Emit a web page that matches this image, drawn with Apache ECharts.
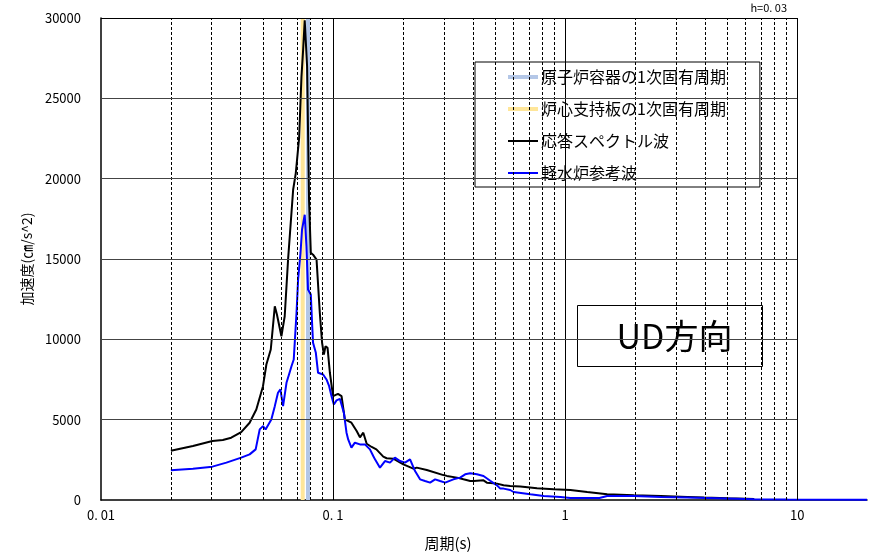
<!DOCTYPE html>
<html>
<head>
<meta charset="utf-8">
<script src="https://cdn.jsdelivr.net/npm/echarts@6/dist/echarts.min.js"></script>
<style>
html, body { margin: 0; padding: 0; background: #fff; }
#chart { width: 872px; height: 556px; }
</style>
</head>
<body>
<div id="chart"></div>
<script>
// 応答スペクトル波 (周期 s / 加速度 cm/s^2)
var blackPeriod = [0.020, 0.0249, 0.0302, 0.0335, 0.0364, 0.0402, 0.0437, 0.0467, 0.0499, 0.0516,
  0.0539, 0.0561, 0.0573, 0.0599, 0.0619, 0.0640, 0.0673, 0.0691, 0.0714, 0.0731,
  0.0743, 0.0755, 0.0773, 0.0788, 0.0802, 0.0820, 0.0849, 0.0862, 0.0877, 0.0897,
  0.0913, 0.0928, 0.0947, 0.0969, 0.100, 0.105, 0.1088, 0.1124, 0.120, 0.1264,
  0.1306, 0.135, 0.1396, 0.1467, 0.1537, 0.1646, 0.1702, 0.1818, 0.1848, 0.2009,
  0.2218, 0.2294, 0.2535, 0.2989, 0.3093, 0.3417, 0.3648, 0.390, 0.4035, 0.445,
  0.460, 0.5085, 0.5432, 0.580, 0.6412, 0.7568, 0.893, 1.054, 1.245, 1.518,
  1.978, 2.58, 3.365, 3.97, 5.01, 6.53];
var blackAccel = [3070, 3356, 3667, 3730, 3877, 4226, 4810, 5637, 7085, 8434,
  9366, 12057, 11541, 10193, 11436, 14960, 19310, 20350, 22520, 26350,
  28010, 29850, 26970, 18690, 15380, 15270, 14960, 13400, 11650, 9780,
  9055, 9570, 9470, 7920, 6460, 6600, 6460, 5015, 4810, 4290,
  3900, 4190, 3500, 3300, 3150, 2700, 2600, 2573, 2530, 2219,
  1950, 2014, 1865, 1550, 1500, 1392, 1287, 1181, 1181, 1224,
  1081, 1019, 914, 870, 833, 727, 665, 622, 497, 354,
  292, 249, 186, 149, 106, 62];

// 軽水炉参考波
var bluePeriod = [0.020, 0.0249, 0.0302, 0.0347, 0.0402, 0.0437, 0.0464, 0.0483, 0.0499, 0.0512,
  0.0542, 0.0561, 0.0579, 0.0593, 0.0609, 0.0630, 0.0646, 0.0662, 0.0677, 0.0696,
  0.0707, 0.0724, 0.0735, 0.0755, 0.0768, 0.0780, 0.0802, 0.0812, 0.0820, 0.0843,
  0.0862, 0.0877, 0.0906, 0.0937, 0.0962, 0.0985, 0.1008, 0.1035, 0.107, 0.1088,
  0.1113, 0.1143, 0.1162, 0.120, 0.1221, 0.1242, 0.1306, 0.1372, 0.1396, 0.1442,
  0.1490, 0.1516, 0.1593, 0.1674, 0.176, 0.1848, 0.1943, 0.2042, 0.2147, 0.2256,
  0.2371, 0.2491, 0.2619, 0.2753, 0.2893, 0.3041, 0.3302, 0.3529, 0.3709, 0.3768,
  0.390, 0.4168, 0.445, 0.4757, 0.5085, 0.5255, 0.5432, 0.580, 0.5998, 0.7079,
  0.8084, 0.9544, 1.054, 1.406, 1.518, 1.978, 2.58, 3.365, 4.994, 6.53,
  9.10, 20];
var blueAccel = [1846, 1951, 2075, 2324, 2635, 2840, 3150, 4394, 4600, 4394,
  5015, 5842, 6675, 6880, 5842, 7296, 7812, 8328, 8745, 11647,
  13717, 15376, 16824, 17756, 15786, 13095, 12784, 11025, 9782, 9161,
  7918, 7812, 7812, 7501, 7085, 6464, 5948, 6200, 6300, 6364,
  5432, 4189, 3770, 3256, 3356, 3567, 3462, 3462, 3462, 3150,
  2735, 2530, 2014, 2424, 2324, 2635, 2424, 2324, 2530, 1803,
  1287, 1181, 1081, 1287, 1181, 1081, 1287, 1392, 1597, 1659,
  1659, 1597, 1491, 1200, 914, 708, 708, 622, 497, 354,
  249, 186, 124, 124, 249, 249, 186, 149, 87, 43,
  25, 10];

// 1次固有周期
var vesselPeriod = 0.078;   // 原子炉容器
var corePeriod = 0.074;     // 炉心支持板

var xTickValues = [0.01, 0.1, 1, 10];
var xTickLabels = ['0. 01', '0. 1', '1', '10'];
var minorPeriods = [0.02, 0.03, 0.04, 0.05, 0.06, 0.07, 0.08, 0.09,
  0.2, 0.3, 0.4, 0.5, 0.6, 0.7, 0.8, 0.9,
  2, 3, 4, 5, 6, 7, 8, 9];
var majorPeriods = [0.1, 1, 10];
var yTicks = [5000, 10000, 15000, 20000, 25000, 30000];

var FONT = '"Noto Sans CJK JP", "Noto Sans", sans-serif';

function zip(xs, ys) {
  return xs.map(function (x, i) { return [x, ys[i]]; });
}

// グリッド線 (0.01〜10 の範囲だけ)
var gridLines = [];
minorPeriods.forEach(function (p) {
  gridLines.push({ xAxis: p, lineStyle: { type: [3, 2], color: '#000', width: 1 } });
});
majorPeriods.forEach(function (p) {
  gridLines.push({ xAxis: p, lineStyle: { type: 'solid', color: '#000', width: 1 } });
});
yTicks.forEach(function (y) {
  gridLines.push([
    { coord: [0.01, y], lineStyle: { type: 'solid', color: y === 30000 ? '#000' : '#444', width: 1 } },
    { coord: [10, y] }
  ]);
});

var myChart = echarts.init(document.getElementById('chart'));
var option = {
  animation: false,
  backgroundColor: '#fff',
  textStyle: { fontFamily: FONT },
  grid: { left: 101, right: 5, top: 18, bottom: 55 },
  legend: {
    orient: 'vertical',
    left: 475,
    top: 62,
    data: [
      { name: '原子炉容器の1次固有周期', lineStyle: { width: 4 } },
      { name: '炉心支持板の1次固有周期', lineStyle: { width: 4 } },
      { name: '応答スペクトル波', lineStyle: { width: 2 } },
      { name: '軽水炉参考波', lineStyle: { width: 2 } }
    ],
    backgroundColor: '#fff',
    borderColor: '#000',
    borderWidth: 1,
    borderRadius: 0,
    padding: [7, 34, 6, 31],
    itemWidth: 30,
    itemHeight: 16,
    itemGap: 16,
    itemStyle: { opacity: 0 },
    textStyle: { fontSize: 16, color: '#000', fontFamily: FONT, padding: [0, 0, 0, -2] },
    selectedMode: false
  },
  xAxis: {
    type: 'log',
    logBase: 10,
    min: 0.01,
    max: 20,
    name: '周期(s)',
    nameLocation: 'middle',
    nameGap: 36,
    nameTextStyle: { fontSize: 15, color: '#000', padding: [0, 72, 0, 0] },
    axisLine: { show: true, lineStyle: { color: '#000', width: 1.5 } },
    axisTick: { show: false },
    splitLine: { show: false },
    minorTick: { show: false },
    axisLabel: {
      color: '#000',
      fontSize: 13,
      margin: 9,
      formatter: function (v) {
        for (var i = 0; i < xTickValues.length; i++) {
          if (Math.abs(Math.log10(v) - Math.log10(xTickValues[i])) < 1e-6) return xTickLabels[i];
        }
        return '';
      }
    }
  },
  yAxis: {
    type: 'value',
    min: 0,
    max: 30000,
    interval: 5000,
    name: '加速度(㎝/s^2)',
    nameLocation: 'middle',
    nameGap: 64,
    nameTextStyle: { fontSize: 14, color: '#000' },
    axisLine: { show: true, lineStyle: { color: '#000', width: 1.5 } },
    axisTick: { show: false },
    splitLine: { show: false },
    axisLabel: {
      color: '#000',
      fontSize: 13,
      margin: 20,
      formatter: function (v) { return String(v); }
    }
  },
  graphic: [
    {
      type: 'text',
      right: 85,
      top: 2,
      style: { text: 'h=0. 03', font: '11px ' + FONT, fill: '#000' }
    },
    {
      type: 'group',
      left: 577,
      top: 305,
      children: [
        { type: 'rect', shape: { x: 0, y: 0, width: 185, height: 61 },
          style: { fill: '#fff', stroke: '#000', lineWidth: 1 } },
        { type: 'text', x: 97, y: 31,
          style: { text: 'UD方向', font: '34px ' + FONT, fill: '#000', align: 'center', verticalAlign: 'middle' } }
      ]
    }
  ],
  series: [
    {
      name: 'grid',
      type: 'line',
      data: [[0.01, 0]],
      symbol: 'none',
      lineStyle: { width: 0 },
      silent: true,
      z: 1,
      markLine: {
        silent: true,
        symbol: ['none', 'none'],
        label: { show: false },
        animation: false,
        data: gridLines
      }
    },
    {
      name: '原子炉容器の1次固有周期',
      type: 'line',
      data: [[vesselPeriod, 0], [vesselPeriod, 30000]],
      symbol: 'none',
      color: '#b4c7e7',
      lineStyle: { width: 4, color: '#b4c7e7' },
      z: 2
    },
    {
      name: '炉心支持板の1次固有周期',
      type: 'line',
      data: [[corePeriod, 0], [corePeriod, 30000]],
      symbol: 'none',
      color: '#ffe699',
      lineStyle: { width: 4, color: '#ffe699' },
      z: 2
    },
    {
      name: '応答スペクトル波',
      type: 'line',
      data: zip(blackPeriod, blackAccel),
      symbol: 'none',
      color: '#000',
      lineStyle: { width: 2, color: '#000' },
      z: 3
    },
    {
      name: '軽水炉参考波',
      type: 'line',
      data: zip(bluePeriod, blueAccel),
      symbol: 'none',
      color: '#0000ff',
      lineStyle: { width: 2, color: '#0000ff' },
      z: 4
    }
  ]
};
myChart.setOption(option);
</script>
</body>
</html>
